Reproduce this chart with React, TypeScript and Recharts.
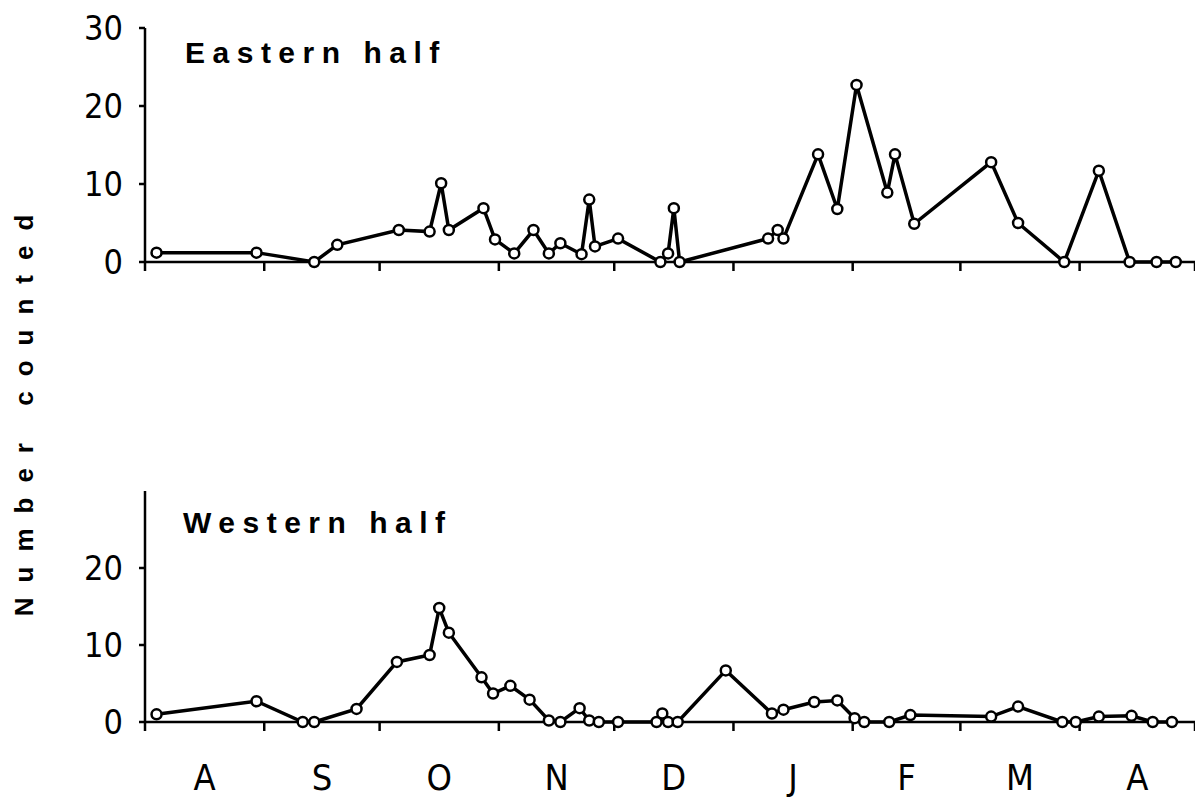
import React from 'react';
import { LineChart, Line, XAxis, YAxis } from 'recharts';

// Days since 1 August
const eastDays = [3, 29, 44, 50, 66, 74, 77, 79, 88, 91, 96, 101, 105, 108, 113.5, 115.5, 117, 123, 134, 136, 137.5, 139, 162, 164.5, 166, 175, 180, 185, 193, 195, 200, 220, 227, 239, 248, 256, 263, 268];
const eastCounts = [1.2, 1.2, 0, 2.2, 4.1, 3.9, 10.1, 4.1, 6.9, 2.9, 1.1, 4.1, 1.1, 2.4, 1.0, 8.0, 2.0, 3.0, 0, 1.1, 6.9, 0, 3.0, 4.1, 3.0, 13.8, 6.8, 22.7, 8.9, 13.8, 4.9, 12.8, 5.0, 0, 11.7, 0, 0, 0];

const westDays = [3, 29, 41, 44, 55, 65.5, 74, 76.5, 79, 87.5, 90.5, 95, 100, 105, 108, 113, 115.5, 118, 123, 133, 134.5, 136, 138.5, 151, 163, 166, 174, 180, 184.5, 187, 193.5, 199, 220, 227, 238.5, 242, 248, 256.5, 262, 267];
const westCounts = [1.0, 2.7, 0, 0, 1.7, 7.8, 8.7, 14.8, 11.6, 5.8, 3.7, 4.7, 2.9, 0.2, 0, 1.8, 0.2, 0, 0, 0, 1.1, 0, 0, 6.7, 1.1, 1.6, 2.6, 2.8, 0.5, 0, 0, 0.9, 0.7, 2.0, 0, 0, 0.7, 0.8, 0, 0];

const monthBoundaries = [0, 31, 61, 92, 122, 153, 184, 212, 243, 273];
const monthMids = [15.5, 46, 76.5, 107, 137.5, 168.5, 198, 227.5, 258];
const monthLabels = ['A', 'S', 'O', 'N', 'D', 'J', 'F', 'M', 'A'];
const eastYTicks = [0, 10, 20, 30];
const westYTicks = [0, 10, 20];

const eastData = eastDays.map((d, i) => ({ day: d, count: eastCounts[i] }));
const westData = westDays.map((d, i) => ({ day: d, count: westCounts[i] }));

const narrow = "'Liberation Sans Narrow', 'DejaVu Sans Condensed', sans-serif";
const yTickStyle = { fontFamily: narrow, fontSize: 34, fill: '#000' };
const xTickStyle = { fontFamily: narrow, fontSize: 36, fill: '#000' };
const axisStroke = { stroke: '#000', strokeWidth: 2.5 };
const tickStroke = { stroke: '#000', strokeWidth: 2.5 };
const dotStyle = { r: 5, fill: '#fff', stroke: '#000', strokeWidth: 2.5 };

const titleStyle: React.CSSProperties = {
  position: 'absolute',
  fontFamily: "'Liberation Sans', Arial, sans-serif",
  fontWeight: 'bold',
  fontSize: 30,
  letterSpacing: 7.5,
  color: '#000',
  lineHeight: 1,
  whiteSpace: 'nowrap',
};

const NoLabel = () => <g />;

function Panel({ data, yTicks, top, height, marginTop, marginBottom, showLabels }: any) {
  return (
    <div style={{ position: 'absolute', left: 0, top, width: 1195, height }}>
      <LineChart width={1195} height={height} data={data} margin={{ top: marginTop, right: 0, left: 0, bottom: marginBottom }}>
        <XAxis
          dataKey="day"
          type="number"
          domain={[0, 273]}
          ticks={monthBoundaries}
          interval={0}
          tick={NoLabel}
          tickSize={9}
          height={12}
          axisLine={axisStroke}
          tickLine={tickStroke}
        />
        {showLabels && (
          <XAxis
            xAxisId="labels"
            dataKey="day"
            type="number"
            domain={[0, 273]}
            ticks={monthMids}
            interval={0}
            tickSize={0}
            tickMargin={30}
            height={60}
            axisLine={false}
            tickLine={false}
            tick={xTickStyle}
            tickFormatter={(v: number) => monthLabels[monthMids.indexOf(v)]}
          />
        )}
        <YAxis
          type="number"
          domain={[0, 30]}
          ticks={yTicks}
          interval={0}
          width={145}
          tickSize={6}
          tickMargin={16}
          axisLine={axisStroke}
          tickLine={tickStroke}
          tick={yTickStyle}
        />
        {showLabels && (
          <Line
            xAxisId="labels"
            type="linear"
            dataKey="count"
            stroke="none"
            dot={false}
            activeDot={false}
            legendType="none"
            isAnimationActive={false}
          />
        )}
        <Line
          type="linear"
          dataKey="count"
          stroke="#000"
          strokeWidth={3.5}
          dot={dotStyle}
          activeDot={false}
          isAnimationActive={false}
        />
      </LineChart>
    </div>
  );
}

export default function App() {
  return (
    <div style={{ position: 'absolute', left: 0, top: 0, width: 1195, height: 808, background: '#fff', overflow: 'hidden' }}>
      <Panel data={eastData} yTicks={eastYTicks} top={0} height={290} marginTop={28} marginBottom={16} showLabels={false} />
      <Panel data={westData} yTicks={westYTicks} top={460} height={348} marginTop={31} marginBottom={14} showLabels={true} />
      <div style={{ ...titleStyle, left: 185, top: 38 }}>Eastern half</div>
      <div style={{ ...titleStyle, left: 183, top: 508 }}>Western half</div>
      <svg width={60} height={808} style={{ position: 'absolute', left: 0, top: 0 }}>
        <text
          x={24}
          y={408}
          transform="rotate(-90 24 408)"
          textAnchor="middle"
          dominantBaseline="central"
          fontFamily="'Liberation Sans', Arial, sans-serif"
          fontWeight="bold"
          fontSize={26}
          letterSpacing={15}
          fill="#000"
        >
          Number counted
        </text>
      </svg>
    </div>
  );
}
